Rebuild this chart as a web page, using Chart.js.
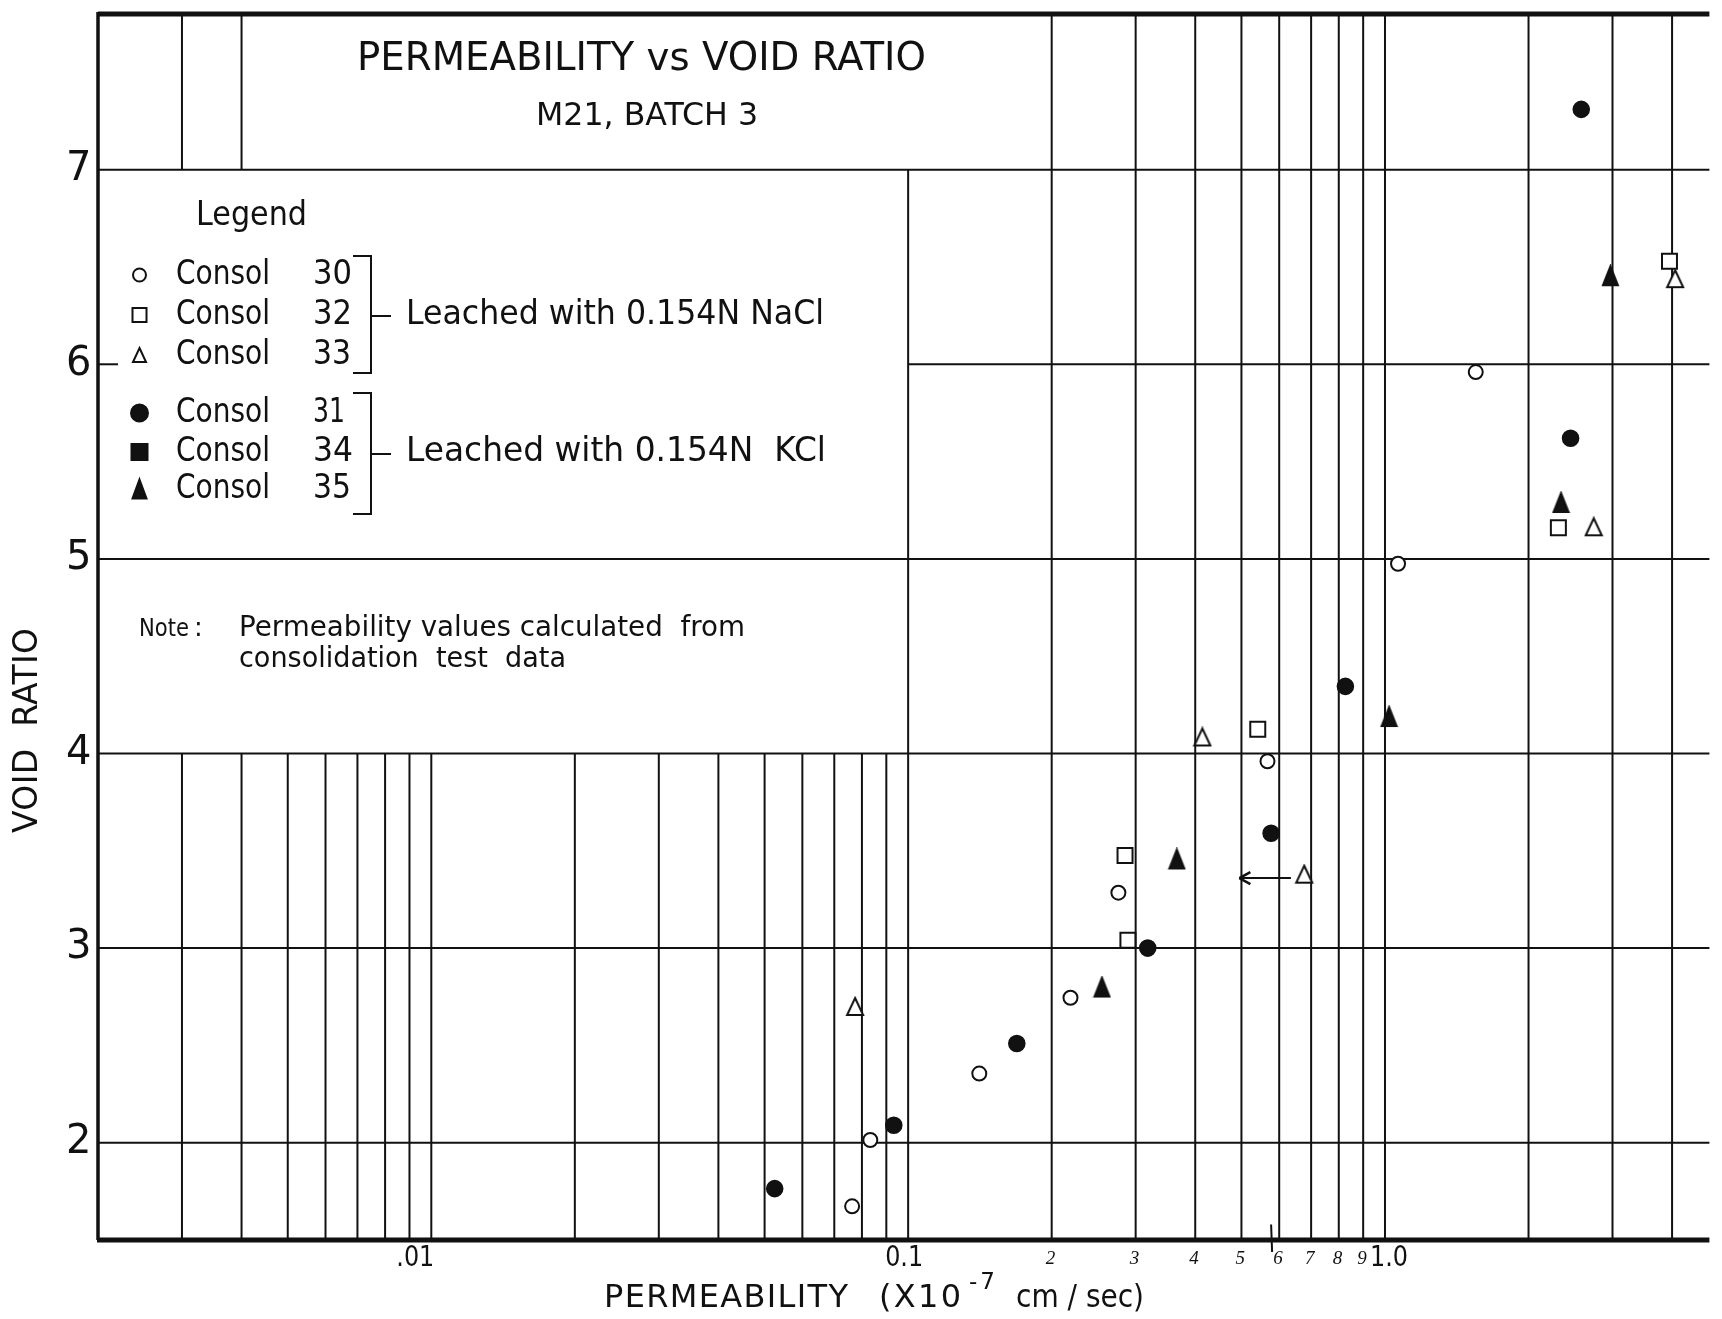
<!DOCTYPE html>
<html>
<head>
<meta charset="utf-8">
<title>Permeability vs Void Ratio</title>
<script src="https://cdn.jsdelivr.net/npm/chart.js@4.4.1/dist/chart.umd.min.js"></script>
<style>
  html, body { margin: 0; padding: 0; background: #fff; }
  canvas { display: block; }
</style>
</head>
<body>
<canvas id="chart" width="1722" height="1319"></canvas>
<script>
// permeability (x10^-7 cm/sec) and void ratio for each consolidation test
// leached with 0.154N NaCl
const consol30k = [0.0763, 0.0833, 0.141, 0.219, 0.276, 0.567, 1.065, 1.55];
const consol30e = [1.673, 2.014, 2.355, 2.745, 3.285, 3.96, 4.975, 5.96];
const consol32k = [0.289, 0.285, 0.541, 2.31, 3.95];
const consol32e = [3.04, 3.476, 4.125, 5.16, 6.53];
const consol33k = [0.0774, 0.677, 0.414, 2.74, 4.06];
const consol33e = [2.70, 3.38, 4.085, 5.165, 6.44];
// leached with 0.154N KCl
const consol31k = [0.0525, 0.0933, 0.169, 0.318, 0.577, 0.826, 2.45, 2.58];
const consol31e = [1.764, 2.09, 2.51, 3.0, 3.59, 4.345, 5.62, 7.31];
const consol34k = [];
const consol34e = [];
const consol35k = [0.255, 0.366, 1.02, 2.34, 2.97];
const consol35e = [2.80, 3.458, 4.19, 5.29, 6.455];

// arrow beside the consol 33 point (from, to) at this void ratio
const arrowK = [0.635, 0.495];
const arrowE = 3.36;

// axis labelling
const yTicks = [2, 3, 4, 5, 6, 7];
const xTickVals = [0.01, 0.1, 1];
const xTickText = ['.01', '0.1', '1.0'];
const penVals = [0.2, 0.3, 0.4, 0.5, 0.6, 0.7, 0.8, 0.9];
const penText = ['2', '3', '4', '5', '6', '7', '8', '9'];

const INK = '#111';
const FONT = '"DejaVu Sans", "Liberation Sans", sans-serif';

// text from left edge x, squeezed or letter-spaced to width w
function put(ctx, s, x, y, size, w, face) {
  ctx.save();
  ctx.font = face ? face.replace('%', size + 'px') : size + 'px ' + FONT;
  ctx.textBaseline = 'middle';
  ctx.textAlign = 'left';
  ctx.fillStyle = INK;
  const m = ctx.measureText(s).width;
  if (w && m > w) {
    ctx.translate(x, y);
    ctx.scale(w / m, 1);
    ctx.fillText(s, 0, 0);
  } else {
    if (w && s.length > 1) ctx.letterSpacing = ((w - m) / (s.length - 1)) + 'px';
    ctx.fillText(s, x, y);
  }
  ctx.restore();
}

function seg(ctx, x1, y1, x2, y2, w) {
  ctx.lineWidth = w;
  ctx.beginPath();
  ctx.moveTo(x1, y1);
  ctx.lineTo(x2, y2);
  ctx.stroke();
}

// open/filled marker of width w and height h
function marker(ctx, style, filled, cx, cy, w, h) {
  ctx.save();
  ctx.lineWidth = 2;
  ctx.strokeStyle = INK;
  ctx.fillStyle = filled ? INK : '#fff';
  ctx.beginPath();
  if (style === 'circle') {
    ctx.arc(cx, cy, w / 2, 0, Math.PI * 2);
  } else if (style === 'rect') {
    ctx.rect(cx - w / 2, cy - h / 2, w, h);
  } else {
    ctx.moveTo(cx, cy - h / 2);
    ctx.lineTo(cx + w / 2, cy + h / 2);
    ctx.lineTo(cx - w / 2, cy + h / 2);
    ctx.closePath();
  }
  ctx.fill();
  ctx.stroke();
  ctx.restore();
}

// narrow triangles used as point styles
function triangle(w, h, filled) {
  const c = document.createElement('canvas');
  c.width = w + 4;
  c.height = h + 4;
  marker(c.getContext('2d'), 'triangle', filled, c.width / 2, c.height / 2, w, h);
  return c;
}

// log cycle lines of the graph paper
const lowerLines = [];
[0.001, 0.01].forEach(d => {
  for (let k = 1; k <= 9; k++) {
    const v = k * d;
    if (v > 0.0025) lowerLines.push(v);
  }
});
const titleLines = [0.003, 0.004];
const fullLines = [0.2, 0.3, 0.4, 0.5, 0.6, 0.7, 0.8, 0.9, 1, 2, 3, 4];

const paper = {
  id: 'paper',
  beforeDatasetsDraw(chart) {
    const { ctx, chartArea: a, scales: { x, y } } = chart;
    ctx.save();
    ctx.strokeStyle = INK;
    lowerLines.forEach(v => seg(ctx, x.getPixelForValue(v), y.getPixelForValue(1.5), x.getPixelForValue(v), y.getPixelForValue(4), 2));
    titleLines.forEach(v => seg(ctx, x.getPixelForValue(v), a.top, x.getPixelForValue(v), y.getPixelForValue(7), 2));
    seg(ctx, x.getPixelForValue(0.1), y.getPixelForValue(1.5), x.getPixelForValue(0.1), y.getPixelForValue(7), 2);
    fullLines.forEach(v => seg(ctx, x.getPixelForValue(v), a.top, x.getPixelForValue(v), a.bottom, 2));

    [2, 3, 4, 5, 7].forEach(v => seg(ctx, a.left, y.getPixelForValue(v), a.right, y.getPixelForValue(v), 2));
    seg(ctx, x.getPixelForValue(0.1), y.getPixelForValue(6), a.right, y.getPixelForValue(6), 2);
    seg(ctx, a.left, y.getPixelForValue(6), a.left + 20, y.getPixelForValue(6), 2);

    // frame
    seg(ctx, a.left, a.top, a.right, a.top, 5);
    seg(ctx, a.left - 1, a.bottom, a.right, a.bottom, 5);
    seg(ctx, a.left, a.top - 2, a.left, a.bottom, 3.5);
    ctx.restore();
  },
  afterDatasetsDraw(chart) {
    const { ctx, scales: { x, y } } = chart;
    ctx.save();
    ctx.strokeStyle = INK;
    const x1 = x.getPixelForValue(arrowK[0]);
    const x2 = x.getPixelForValue(arrowK[1]);
    const ya = y.getPixelForValue(arrowE);
    seg(ctx, x1, ya, x2, ya, 2);
    seg(ctx, x2, ya, x2 + 11, ya - 6, 2.5);
    seg(ctx, x2, ya, x2 + 11, ya + 6, 2.5);
    // pencil mark across the axis
    const xm = x.getPixelForValue(0.577);
    seg(ctx, xm, y.getPixelForValue(1.58), xm + 1, y.getPixelForValue(1.5) + 12, 2);
    ctx.restore();
  },
  afterDraw(chart) {
    const { ctx, scales: { x, y } } = chart;

    // title block
    put(ctx, 'PERMEABILITY vs VOID RATIO', 357, 60, 39, 569);
    put(ctx, 'M21, BATCH 3', 536, 117, 32, 222);

    // legend block
    put(ctx, 'Legend', 196, 216, 33, 111);
    const rows = [
      ['circle', false, '30', 275, 13, 13, 39],
      ['rect', false, '32', 315, 14, 14, 39],
      ['triangle', false, '33', 355, 13, 14, 38],
      ['circle', true, '31', 413, 17, 17, 32],
      ['rect', true, '34', 452, 16, 16, 40],
      ['triangle', true, '35', 489, 14, 19, 38]
    ];
    rows.forEach(([st, f, n, ry, w, h, nw]) => {
      marker(ctx, st, f, 139.5, ry, w, h);
      put(ctx, 'Consol', 176, ry, 33, 94);
      put(ctx, n, 313, ry, 33, nw);
    });
    ctx.save();
    ctx.strokeStyle = INK;
    [[256, 373, 316], [393, 514, 454]].forEach(([t, b, m]) => {
      seg(ctx, 371, t, 371, b, 2);
      seg(ctx, 353, t, 372, t, 2);
      seg(ctx, 353, b, 372, b, 2);
      seg(ctx, 371, m, 391, m, 2);
    });
    ctx.restore();
    put(ctx, 'Leached with 0.154N NaCl', 406, 315, 33, 418);
    put(ctx, 'Leached with 0.154N  KCl', 406, 452, 33, 420);

    put(ctx, 'Note', 139, 629, 25, 50);
    put(ctx, ':', 194, 629, 26);
    put(ctx, 'Permeability values calculated  from', 239, 629, 28, 506);
    put(ctx, 'consolidation  test  data', 239, 660, 28, 327);

    // axis numbers
    yTicks.forEach(v => put(ctx, String(v), 66, y.getPixelForValue(v), 40));
    const offs = [-35, -23, -15];
    xTickVals.forEach((v, i) => put(ctx, xTickText[i], x.getPixelForValue(v) + offs[i], 1258, 29, 38));
    penVals.forEach((v, i) => put(ctx, penText[i], x.getPixelForValue(v) - 6, 1259, 19, null, 'italic % "Liberation Serif", serif'));

    // axis titles
    put(ctx, 'PERMEABILITY', 604, 1299, 32, 244);
    put(ctx, '(X10', 879, 1299, 32, 82);
    put(ctx, '-7', 969, 1283, 23, 26);
    put(ctx, 'cm / sec)', 1016, 1299, 32, 128);
    ctx.save();
    ctx.translate(28, 731);
    ctx.rotate(-Math.PI / 2);
    put(ctx, 'VOID  RATIO', -102, 0, 33, 205);
    ctx.restore();
  }
};

function series(label, xs, ys, style, filled, r) {
  return {
    label,
    data: xs.map((v, i) => ({ x: v, y: ys[i] })),
    pointStyle: style,
    pointRadius: r,
    pointBorderWidth: 2,
    pointBorderColor: INK,
    pointBackgroundColor: filled ? INK : '#fff',
    showLine: false
  };
}

new Chart(document.getElementById('chart'), {
  type: 'scatter',
  data: {
    datasets: [
      series('Consol 30', consol30k, consol30e, 'circle', false, 7),
      series('Consol 32', consol32k, consol32e, 'rect', false, 10.6),
      series('Consol 33', consol33k, consol33e, triangle(16, 17, false), false, 9),
      series('Consol 31', consol31k, consol31e, 'circle', true, 7.8),
      series('Consol 34', consol34k, consol34e, 'rect', true, 10.6),
      series('Consol 35', consol35k, consol35e, triangle(15, 19, true), true, 10)
    ]
  },
  options: {
    responsive: false,
    animation: false,
    layout: { padding: { left: 98, right: 0, top: 14, bottom: 79 } },
    plugins: { legend: { display: false }, tooltip: { enabled: false } },
    scales: {
      x: { type: 'logarithmic', min: 0.002, max: 4.79, display: false },
      y: { type: 'linear', min: 1.5, max: 7.8, display: false }
    }
  },
  plugins: [paper]
});
</script>
</body>
</html>
